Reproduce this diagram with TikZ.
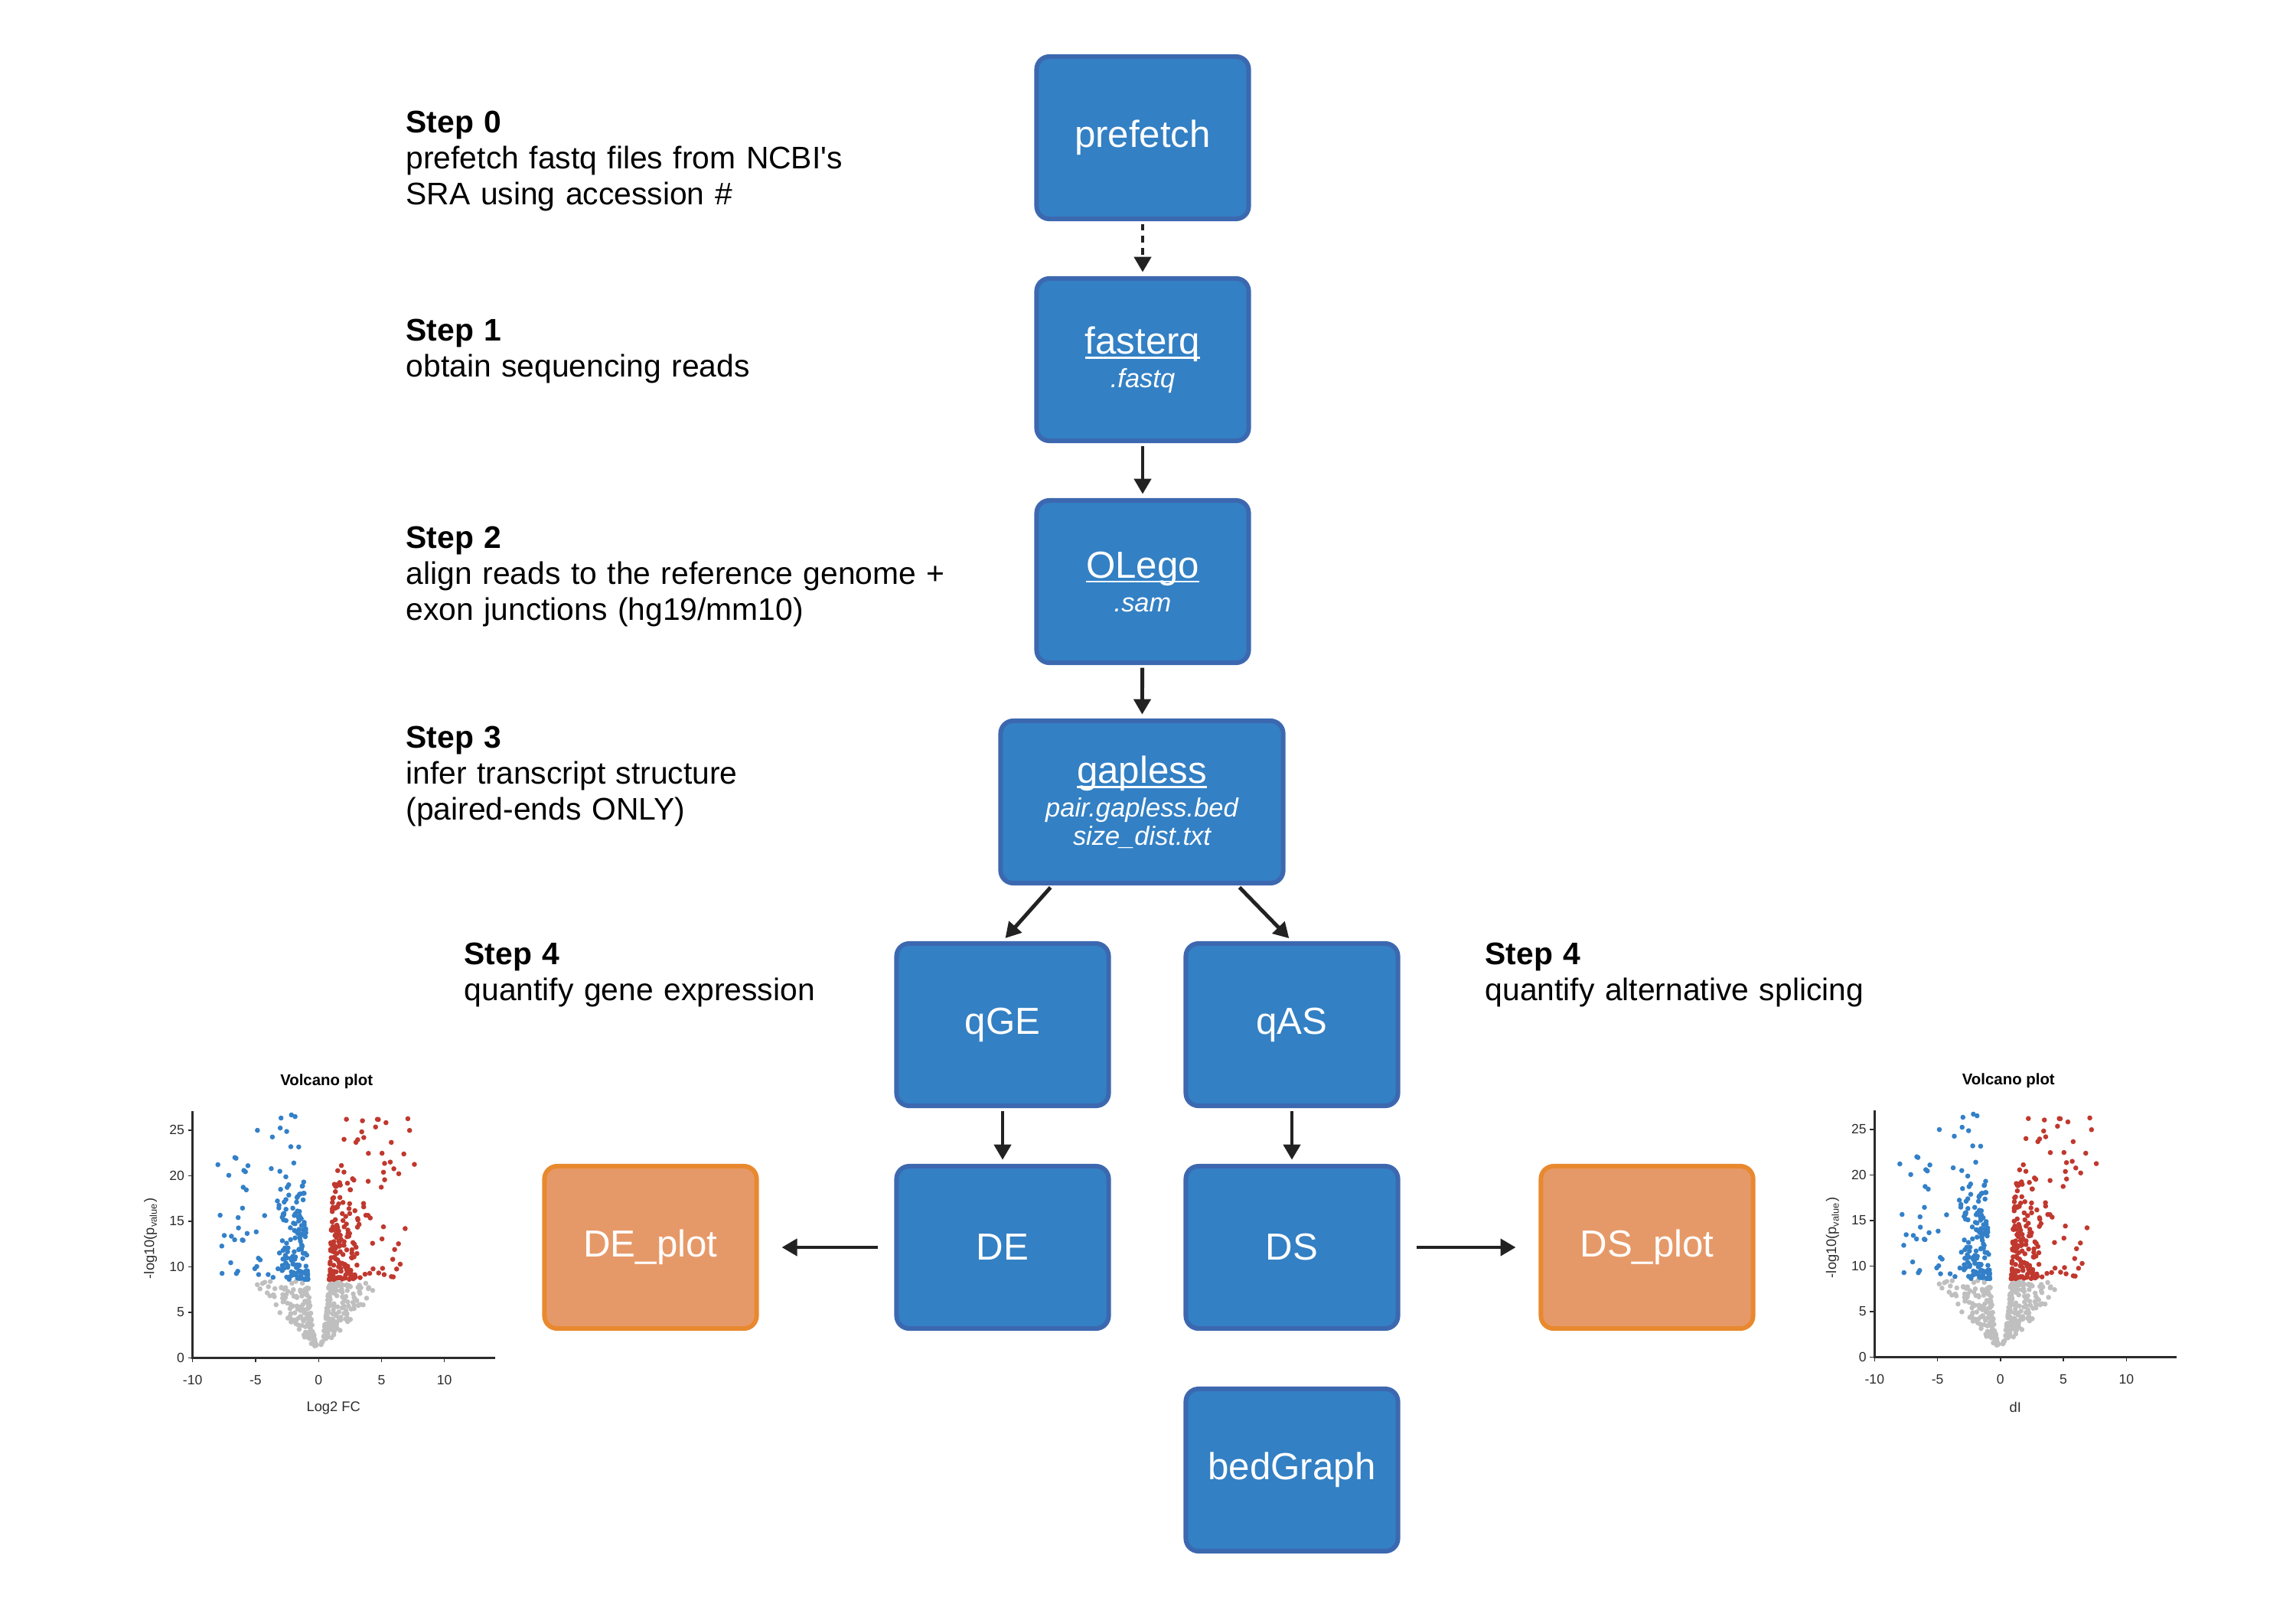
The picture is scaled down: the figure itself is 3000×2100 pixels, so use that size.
\documentclass[tikz,border=0pt]{standalone}
\usepackage{fontspec}
\setmainfont{Liberation Sans}
\usetikzlibrary{arrows.meta}

\definecolor{stagefill}{HTML}{3380C4}
\definecolor{stageline}{HTML}{3C68B0}
\definecolor{plotfill}{HTML}{E69968}
\definecolor{plotline}{HTML}{E8892F}
\definecolor{flowline}{HTML}{222222}
\definecolor{volblue}{HTML}{3380C8}
\definecolor{volred}{HTML}{C0382E}
\definecolor{volgrey}{HTML}{BFBFBF}
\definecolor{axisgrey}{HTML}{2B2B2B}

\newcommand{\toolname}[1]{\setbox0\hbox{#1}\rlap{\rule[-1.8pt]{\wd0}{0.7pt}}\box0}
\newcommand{\filetag}[1]{{\fontsize{9.8}{10.5}\selectfont\itshape #1}}

\tikzset{
    stage/.style={draw=stageline, fill=stagefill, line width=1.7pt,
        rounded corners=4.7pt, text=white, inner sep=0pt,
        minimum width=2.77cm, minimum height=2.12cm, align=center,
        font=\fontsize{14}{10.5}\selectfont},
    plotbox/.style={stage, draw=plotline, fill=plotfill},
    steptext/.style={anchor=base west, inner sep=0pt, text width=8cm,
        align=left, font=\fontsize{11.6}{13.4}\selectfont},
    flow/.style={draw=flowline, line width=1.4pt,
        -{Triangle[width=6.2pt,length=5.7pt]},
        shorten <=1pt, shorten >=1.5pt},
    axisline/.style={draw=axisgrey, line width=0.75pt},
    ticklabel/.style={inner sep=0pt, text=axisgrey, font=\fontsize{5}{6}\selectfont},
}

\newcommand{\plotdot}{%
    \pgfmathtruncatemacro{\cidx}{(\vy>8.5)*(1+(\vx>0))}%
    \ifcase\cidx\relax\def\dotcol{volgrey}\or\def\dotcol{volblue}\or\def\dotcol{volred}\fi
    \fill[\dotcol] ({16.45*(\vx+10)},{-11.9*\vy}) circle[radius=3.3];}

\newcommand{\volcanoplot}[4]{%
    \begin{scope}[shift={(#2,#3)}]
        \pgfmathsetseed{2718}
        \foreach \k in {1,...,300}{
            \pgfmathsetmacro{\vy}{1.2+7.2*rnd^0.8}
            \pgfmathsetmacro{\vx}{(0.85*sqrt((\vy-1.1)/7.4)+(0.2+0.6*(\vy-1.2))*rnd^2)*(2*(rnd<0.5)-1)}
            \plotdot
        }
        \foreach \k in {1,...,260}{
            \pgfmathsetmacro{\vy}{8.6+11*rnd^1.6}
            \pgfmathsetmacro{\vx}{(0.85+0.03*(\vy-8.6)+2.2*rnd^1.8)*(2*(rnd<0.5)-1)}
            \plotdot
        }
        \foreach \k in {1,...,140}{
            \pgfmathsetmacro{\vy}{8.8+18*rnd^1.5}
            \pgfmathsetmacro{\vx}{(1.5+6.5*rnd^1.6)*(2*(rnd<0.5)-1)}
            \plotdot
        }
        \draw[axisline] (0,-322) -- (0,0) -- (395,0);
        \foreach \t in {-10,-5,0,5,10}{
            \draw[axisline, line width=0.4pt] ({16.45*(\t+10)},0) -- ({16.45*(\t+10)},6);
            \node[ticklabel, anchor=north] (#1-x\t) at ({16.45*(\t+10)},22) {\t};
        }
        \foreach \t in {0,5,...,25}{
            \draw[axisline, line width=0.4pt] (0,{-11.9*\t}) -- (-6,{-11.9*\t});
            \node[ticklabel, anchor=east] (#1-y\t) at (-10,{-11.9*\t}) {\t};
        }
        \node[inner sep=0pt, font=\fontsize{5.8}{7}\selectfont\bfseries] (#1-title) at (175,-361) {Volcano plot};
        \node[ticklabel, font=\fontsize{5.2}{6}\selectfont] (#1-xlabel) at (184,66) {#4};
        \node[ticklabel, rotate=90, font=\fontsize{5.2}{6}\selectfont] (#1-ylabel) at (-55,-156) {-log10(p\textsubscript{value})};
    \end{scope}}

\begin{document}
\begin{tikzpicture}[x=0.01cm, y=-0.01cm]
        \useasboundingbox (0,0) rectangle (3000,2100);
        \node[stage] (prefetch) at (1493,180) {prefetch};
        \node[stage] (fasterq) at (1493,470) {\toolname{fasterq}\\[2pt]\filetag{.fastq}};
        \node[stage] (olego) at (1493,760) {\toolname{OLego}\\[2pt]\filetag{.sam}};
        \node[stage, minimum width=3.69cm] (gapless) at (1492,1048) {\toolname{gapless}\\[2pt]\filetag{pair.gapless.bed}\\\filetag{size\_dist.txt}};
        \node[stage] (qge) at (1310,1339) {qGE};
        \node[stage] (qas) at (1688,1339) {qAS};
        \node[stage] (de) at (1310,1630) {DE};
        \node[stage] (ds) at (1688,1630) {DS};
        \node[stage] (bedgraph) at (1688,1921) {bedGraph};
        \node[plotbox] (deplot) at (850,1630) {DE\_plot};
        \node[plotbox] (dsplot) at (2152,1630) {DS\_plot};

        \node[steptext] (step0) at (530,173) {\textbf{Step 0}\\prefetch fastq files from NCBI\textquotesingle s\\SRA using accession \#};
        \node[steptext] (step1) at (530,445) {\textbf{Step 1}\\obtain sequencing reads};
        \node[steptext] (step2) at (530,716) {\textbf{Step 2}\\align reads to the reference genome +\\exon junctions (hg19/mm10)};
        \node[steptext] (step3) at (530,977) {\textbf{Step 3}\\infer transcript structure\\(paired-ends ONLY)};
        \node[steptext] (step4a) at (606,1260) {\textbf{Step 4}\\quantify gene expression};
        \node[steptext] (step4b) at (1940,1260) {\textbf{Step 4}\\quantify alternative splicing};

        \draw[flow, dash pattern=on 2.5pt off 2pt] (prefetch) -- (fasterq);
        \draw[flow] (fasterq) -- (olego);
        \draw[flow] (olego) -- (gapless);
        \draw[flow] ([xshift=-1.17cm]gapless.south) -- (qge.north);
        \draw[flow] ([xshift=1.25cm]gapless.south) -- (qas.north);
        \draw[flow] (qge) -- (de);
        \draw[flow] (qas) -- (ds);
        \draw[flow, shorten <=6pt, shorten >=8.5pt] (de) -- (deplot);
        \draw[flow, shorten <=6pt, shorten >=8.5pt] (ds) -- (dsplot);

        \volcanoplot{de}{251.7}{1774.3}{Log2 FC}
        \volcanoplot{ds}{2449.3}{1773.3}{dI}
\end{tikzpicture}
\end{document}
